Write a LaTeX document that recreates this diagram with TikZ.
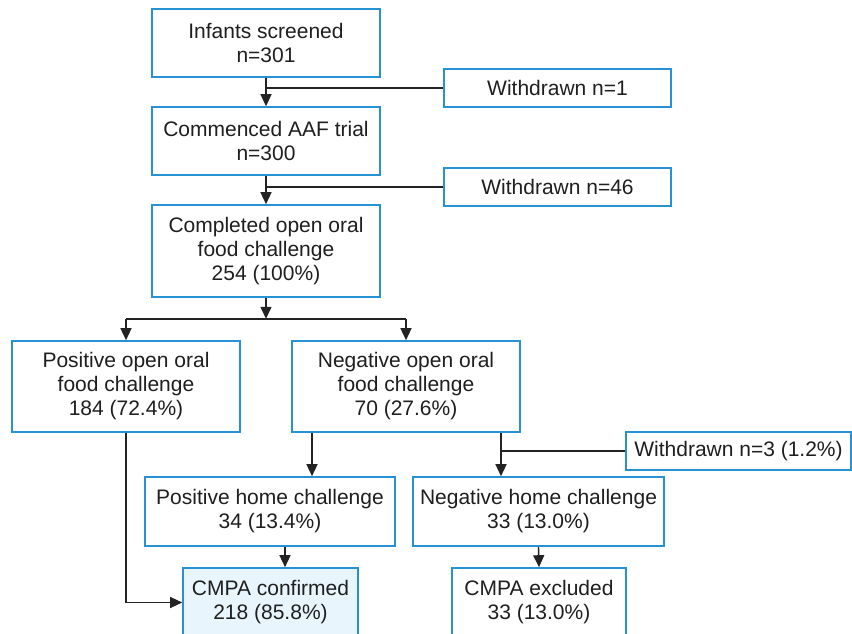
\documentclass[tikz,border=0pt]{standalone}
\usepackage{fontspec}
\setmainfont{Liberation Sans}
\usetikzlibrary{arrows.meta}
\definecolor{bbl}{RGB}{38,146,212}
\definecolor{lfill}{RGB}{232,245,253}
\definecolor{lnc}{RGB}{35,35,35}
\begin{document}
\begin{tikzpicture}[x=1pt,y=-1pt,
  box/.style={draw=bbl,line width=1.6pt,fill=white,align=center,inner sep=0pt,
    font=\fontsize{21}{24}\selectfont,text=black!88},
  arr/.style={draw=lnc,line width=1.4pt,-{Triangle[length=12pt,width=11pt]}},
  conn/.style={draw=lnc,line width=1.4pt}]
\useasboundingbox (0,0) rectangle (852,634);
\clip (0,0) rectangle (852,634);

\node[box,minimum width=228pt,minimum height=68pt] (inf) at (266,43) {Infants screened\\n=301};
\node[box,minimum width=227pt,minimum height=38pt] (w1) at (557.5,88) {Withdrawn n=1};
\node[box,minimum width=228pt,minimum height=68pt] (com) at (266,141) {Commenced AAF trial\\n=300};
\node[box,minimum width=227pt,minimum height=38pt] (w46) at (557.5,187) {Withdrawn n=46};
\node[box,minimum width=228pt,minimum height=92pt] (cmp) at (266,251) {Completed open oral\\food challenge\\254 (100\%)};
\node[box,minimum width=228pt,minimum height=91pt] (pos) at (126,386.5) {Positive open oral\\food challenge\\184 (72.4\%)};
\node[box,minimum width=228pt,minimum height=91pt] (neg) at (406,386.5) {Negative open oral\\food challenge\\70 (27.6\%)};
\node[box,minimum width=225pt,minimum height=38pt] (w3) at (738.5,451) {Withdrawn n=3 (1.2\%)};
\node[box,minimum width=250pt,minimum height=69pt] (ph) at (270,511.5) {Positive home challenge\\34 (13.4\%)};
\node[box,minimum width=251pt,minimum height=69pt] (nh) at (538.5,511.5) {Negative home challenge\\33 (13.0\%)};
\node[box,fill=lfill,minimum width=175pt,minimum height=69pt] (conf) at (270.5,602.5) {CMPA confirmed\\218 (85.8\%)};
\node[box,minimum width=174pt,minimum height=69pt] (exc) at (539,602.5) {CMPA excluded\\33 (13.0\%)};

% top chain
\draw[arr] (inf.south) -- (com.north);
\draw[conn] (w1.west) -- (w1.west -| inf.south);
\draw[arr] (com.south) -- (cmp.north);
\draw[conn] (w46.west) -- (w46.west -| com.south);

% split
\coordinate (split) at ([yshift=-21pt]cmp.south);
\draw[arr] (cmp.south) -- (split);
\draw[conn] (split -| pos.north) -- (split -| neg.north);
\draw[arr] (split -| pos.north) -- (pos.north);
\draw[arr] (split -| neg.north) -- (neg.north);

% negative branch
\coordinate (nl) at ([xshift=-94pt]neg.south);
\coordinate (nr) at ([xshift=95pt]neg.south);
\draw[arr] (nl) -- (nl |- ph.north);
\draw[arr] (nr) -- (nr |- nh.north);
\draw[conn] (w3.west) -- (w3.west -| nr);

% to outcomes
\coordinate (pc) at ([xshift=15pt]ph.south);
\draw[arr] (pc) -- (pc |- conf.north);
\draw[arr] (nh.south) -- (exc.north);
\draw[arr] (pos.south) |- (conf.west);
\end{tikzpicture}
\end{document}
